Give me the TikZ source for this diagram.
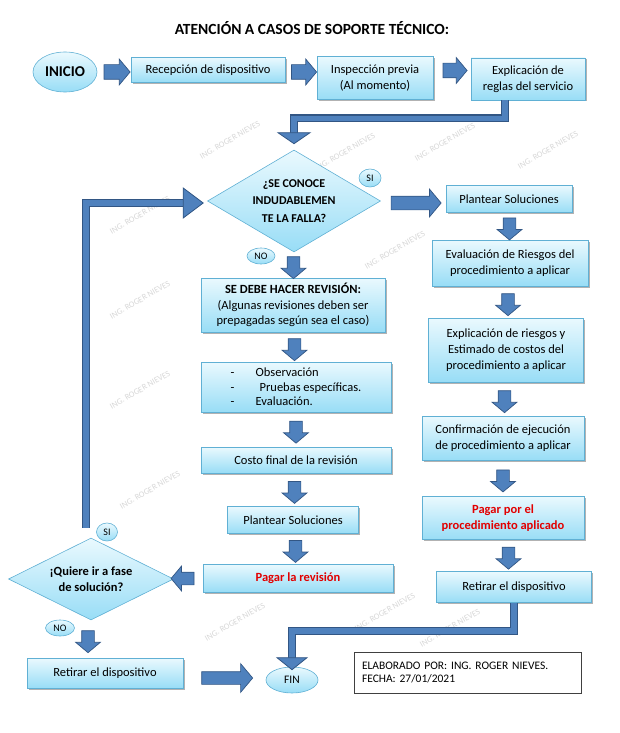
\documentclass[tikz,border=0pt]{standalone}
\usepackage{fontspec}
\setmainfont{Carlito}
\usetikzlibrary{shapes.geometric,shapes.arrows,shadows,calc}
\definecolor{boxtop}{RGB}{234,249,254}
\definecolor{boxbot}{RGB}{152,221,246}
\definecolor{boxedge}{RGB}{96,176,212}
\definecolor{arrfill}{RGB}{79,129,189}
\definecolor{arredge}{RGB}{50,86,132}
\definecolor{alert}{RGB}{226,0,0}
\definecolor{wmgray}{RGB}{215,215,215}

\begin{document}
\begin{tikzpicture}[x=1pt,y=-1pt,
  box/.style={rectangle, draw=boxedge, line width=0.6pt, top color=boxtop, bottom color=boxbot,
    drop shadow={shadow xshift=1.5pt, shadow yshift=-1.5pt, opacity=0.3, fill=black},
    font=\fontsize{12.5}{16}\selectfont, align=center, inner sep=2pt},
  paybox/.style={box, text=alert, font=\fontsize{12.5}{16.5}\selectfont\bfseries},
  tag/.style={ellipse, draw=boxedge, line width=0.6pt, top color=boxtop, bottom color=boxbot,
    font=\fontsize{10}{12}\selectfont, inner sep=0pt},
  decision/.style={diamond, draw=boxedge, line width=0.6pt, top color=boxtop, bottom color=boxbot, inner sep=0pt},
  dtext/.style={font=\fontsize{12}{17.5}\selectfont\bfseries, align=center},
  blockarrow/.style={single arrow, draw=arredge, fill=arrfill, line width=0.7pt, inner xsep=0pt, inner ysep=6pt,
    minimum width=0pt, single arrow tip angle=100, single arrow head extend=6pt, minimum height=22pt},
  pipe/.style={draw=arredge, line width=1.1pt, double=arrfill, double distance=5.5pt},
  head/.style={fill=arrfill, draw=arredge, line width=0.8pt, line join=miter},
  watermark/.style={text=wmgray, rotate=30, font=\fontsize{8.5}{10}\selectfont}
]
\useasboundingbox (0,0) rectangle (619,733);

% faint signature in the free spaces
\foreach \x/\y in {230/140,345/152,445/142,548/150,140/300,140/390,150/490,395/250,
                   235/622,385/612,450/628,140/215}
  \node[watermark] at (\x,\y) {ING. ROGER NIEVES};

\node[font=\fontsize{15.5}{18}\selectfont\bfseries] (title) at (312,28) {ATENCIÓN A CASOS DE SOPORTE TÉCNICO:};

% first row
\node[tag, minimum width=64pt, minimum height=40pt, font=\fontsize{15}{18}\selectfont\bfseries] (inicio) at (65,72) {INICIO};
\node[box, minimum width=154pt, minimum height=25pt] (recep) at (208,70) {Recepción de dispositivo};
\node[box, minimum width=116pt, minimum height=43pt] (insp) at (375,78) {Inspección previa\\(Al momento)};
\node[box, minimum width=114pt, minimum height=42pt] (expl) at (528,79) {Explicación de\\reglas del servicio};

\node[blockarrow, inner ysep=7pt, single arrow head extend=5.5pt, minimum height=26pt] at ($(inicio.east)!.5!(recep.west)+(0,1)$) {};
\node[blockarrow, inner ysep=7pt, single arrow head extend=5.5pt, minimum height=25pt] at ($(recep.east)!.5!(insp.west)+(0,-2)$) {};
\node[blockarrow, inner ysep=7pt, single arrow head extend=5.5pt, minimum height=24pt] at ($(insp.east)!.5!(expl.west)+(0,-8)$) {};

% first decision
\node[decision, minimum width=173pt, minimum height=102pt] (q1) at (294,201) {};
\node[dtext] (q1txt) at (q1) {¿SE CONOCE\\INDUDABLEMEN\\TE LA FALLA?};
\node[tag, minimum width=22pt, minimum height=18pt] (si1) at (370,178) {SI};
\node[tag, minimum width=28pt, minimum height=16pt] (no1) at (261,256) {NO};

\coordinate (q1head) at ([yshift=17pt]q1.north);
\draw[pipe] ([xshift=-23pt]expl.south) -- ++(0,18) -| (q1head);
\filldraw[head] (q1head) ++(-16,0) -- ++(32,0) -- ++(-16,11) -- cycle;

% right branch
\node[box, minimum width=126pt, minimum height=27pt] (sol1) at (509,199) {Plantear Soluciones};
\node[box, minimum width=156pt, minimum height=46pt] (eval) at (510,263) {Evaluación de Riesgos del\\procedimiento a aplicar};
\node[box, minimum width=155pt, minimum height=64pt] (expr) at (506,350) {Explicación de riesgos y\\Estimado de costos del\\procedimiento a aplicar};
\node[box, minimum width=162pt, minimum height=44pt] (conf) at (503,438) {Confirmación de ejecución\\de procedimiento a aplicar};
\node[paybox, minimum width=162pt, minimum height=43pt] (pag1) at (503,518) {Pagar por el\\procedimiento aplicado};
\node[box, minimum width=155pt, minimum height=31pt] (ret2) at (514,587) {Retirar el dispositivo};

\node[blockarrow, inner ysep=6.5pt, single arrow head extend=7pt, minimum height=50pt] at ($(q1.east)!.5!(sol1.west)+(0,3)$) {};
\node[blockarrow, rotate=-90] at ($(sol1.south)!.5!(eval.north)$) {};
\node[blockarrow, rotate=-90] at ($(eval.south)!.5!(expr.north)$) {};
\node[blockarrow, rotate=-90] at ($(expr.south)!.5!(conf.north)$) {};
\node[blockarrow, rotate=-90] at ($(conf.south)!.5!(pag1.north)$) {};
\node[blockarrow, rotate=-90] at ($(pag1.south)!.5!(ret2.north)$) {};

% middle branch
\node[box, minimum width=184pt, minimum height=54pt, font=\fontsize{12.5}{15.5}\selectfont] (rev) at (293,305)
  {\textbf{SE DEBE HACER REVISIÓN:}\\(Algunas revisiones deben ser\\prepagadas según sea el caso)};
\node[box, minimum width=190pt, minimum height=50pt, align=left, font=\fontsize{12.5}{14.5}\selectfont] (obs) at (296,387)
  {\makebox[25pt][l]{-}Observación\\\makebox[25pt][l]{-}\hspace{4pt}Pruebas específicas.\\\makebox[25pt][l]{-}Evaluación.};
\node[box, minimum width=190pt, minimum height=26pt] (costo) at (296,460) {Costo final de la revisión};
\node[box, minimum width=131pt, minimum height=27pt] (sol2) at (293,520) {Plantear Soluciones};
\node[paybox, minimum width=190pt, minimum height=28pt] (pag2) at (298,578) {Pagar la revisión};

\node[blockarrow, rotate=-90] at ($(q1.south)!.5!(rev.north)$) {};
\node[blockarrow, rotate=-90] at ($(rev.south)!.5!(obs.north)$) {};
\node[blockarrow, rotate=-90] at ($(obs.south)!.5!(costo.north)$) {};
\node[blockarrow, rotate=-90] at ($(costo.south)!.5!(sol2.north)$) {};
\node[blockarrow, rotate=-90] at ($(sol2.south)!.5!(pag2.north)$) {};

% second decision
\node[decision, minimum width=165pt, minimum height=82pt] (q2) at (91,579) {};
\node[dtext, font=\fontsize{12.5}{16}\selectfont\bfseries] (q2txt) at (q2) {¡Quiere ir a fase\\de solución?};
\node[tag, minimum width=21pt, minimum height=18pt] (si2) at (107,532) {SI};
\node[tag, minimum width=29pt, minimum height=16pt] (no2) at (60,628) {NO};

\node[blockarrow, rotate=180, minimum height=23pt] at ($(pag2.west)!.5!(q2.east)+(-3,0)$) {};

\coordinate (q1tail) at ([xshift=-24pt,yshift=-2pt]q1.west);
\draw[pipe] ([xshift=-5pt,yshift=10pt]q2.north) |- (q1tail);
\filldraw[head] (q1tail) ++(0,-15) -- ++(0,30) -- ++(20,-15) -- cycle;

% end
\node[box, minimum width=156pt, minimum height=30pt] (ret1) at (105,673) {Retirar el dispositivo};
\node[tag, minimum width=52pt, minimum height=26pt, font=\fontsize{11.5}{13}\selectfont] (fin) at (292,680) {FIN};

\node[blockarrow, rotate=-90] at ($(q2.south)!.5!(ret1.north)+(-10,0)$) {};
\node[blockarrow, single arrow head extend=8pt, minimum height=51pt] at ($(ret1.east)!.5!(fin.west)+(0,1.5)$) {};

\coordinate (finhead) at ([yshift=9pt]fin.north);
\draw[pipe] (ret2.south) -- ++(0,28) -| (finhead);
\filldraw[head] (finhead) ++(-15,0) -- ++(30,0) -- ++(-15,12) -- cycle;

\node[draw=black!75, line width=0.6pt, fill=white, minimum width=227pt, minimum height=41pt, align=left,
  font=\fontsize{11.5}{13.5}\selectfont, inner xsep=8pt, text width=211pt] (note) at (467.5,672.5)
  {ELABORADO POR: ING. ROGER NIEVES.\\FECHA: 27/01/2021};

\end{tikzpicture}
\end{document}
